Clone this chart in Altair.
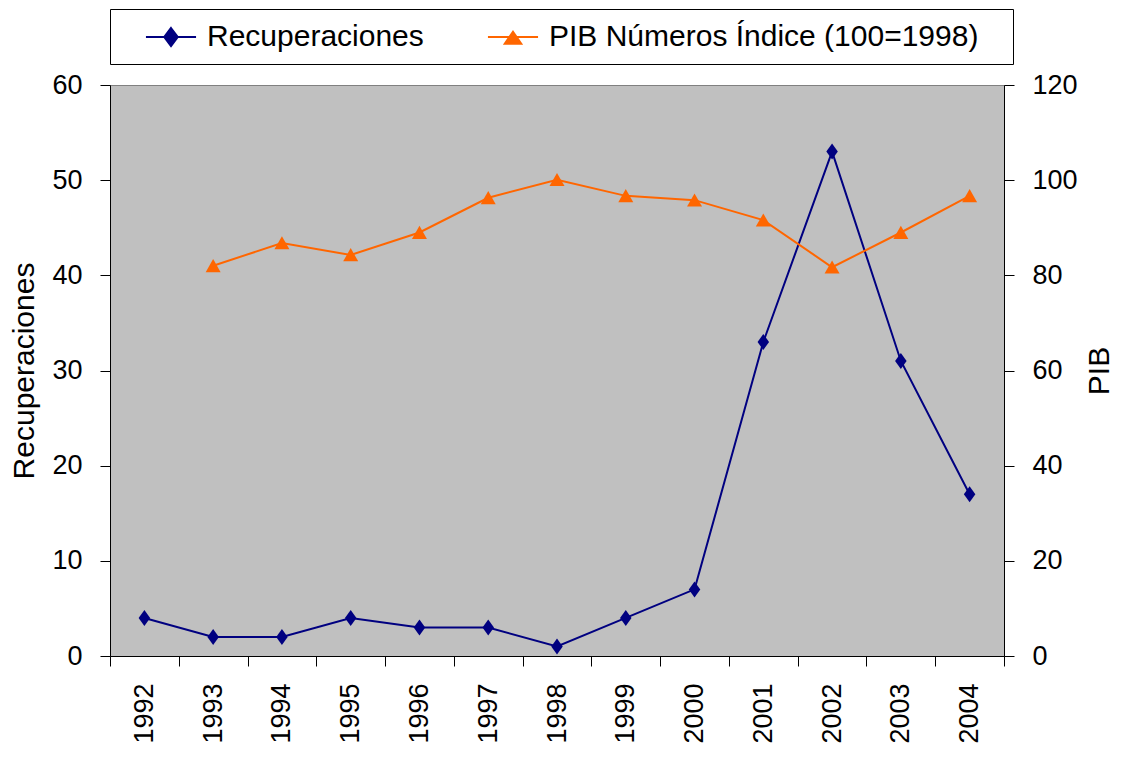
import altair as alt
import pandas as pd

years = ["1992", "1993", "1994", "1995", "1996", "1997", "1998",
         "1999", "2000", "2001", "2002", "2003", "2004"]
recuperaciones = [4, 2, 2, 4, 3, 3, 1, 4, 7, 33, 53, 31, 17]
pib = [None, 82.0, 86.8, 84.3, 89.0, 96.3, 100.1, 96.7, 95.8, 91.6, 81.7, 89.0, 96.7]
series_names = ["Recuperaciones", "PIB Números Índice (100=1998)"]
series_colors = ["#000080", "#FF6600"]

left_ticks = [0, 10, 20, 30, 40, 50, 60]
right_ticks = [0, 20, 40, 60, 80, 100, 120]

df = pd.DataFrame({"year": years, "rec": recuperaciones, "pib": pib})
legend_df = pd.DataFrame({"serie": series_names})

FONT = "Liberation Sans"
diamond = "M0,-1L0.72,0L0,1L-0.72,0Z"
triangle = "M0,-0.9L1,0.85L-1,0.85Z"

legend_diamond = "M-1.67,0L1.67,0M0,-0.6L0.45,0L0,0.6L-0.45,0Z"
legend_triangle = "M-1.67,0L1.67,0M0,-0.35L0.55,0.45L-0.55,0.45Z"

x_enc = alt.X(
    "year:O",
    sort=years,
    scale=alt.Scale(paddingInner=0, paddingOuter=0),
    axis=alt.Axis(
        title=None, labelAngle=270, tickBand="extent", labelPadding=17,
    ),
)

base = alt.Chart(df)

rec_line = base.mark_line(
    color=series_colors[0], strokeWidth=2,
    point=alt.OverlayMarkDef(filled=True, shape=diamond, size=256,
                             color=series_colors[0], opacity=1),
).encode(
    x=x_enc,
    y=alt.Y("rec:Q", scale=alt.Scale(domain=[0, 60], nice=False),
            axis=alt.Axis(values=left_ticks, title="Recuperaciones",
                          orient="left", titlePadding=12)),
)

pib_line = base.mark_line(
    color=series_colors[1], strokeWidth=2,
    point=alt.OverlayMarkDef(filled=True, shape=triangle, size=225,
                             color=series_colors[1], opacity=1),
).encode(
    x=x_enc,
    y=alt.Y("pib:Q", scale=alt.Scale(domain=[0, 120], nice=False),
            axis=alt.Axis(values=right_ticks, title="PIB", orient="right",
                          titleAngle=270, titlePadding=37)),
)

leg = alt.Legend(
    orient="none", legendX=0, legendY=-76, direction="horizontal",
    title=None, labelFont=FONT, labelFontSize=30, labelColor="black",
    symbolSize=900, symbolStrokeWidth=2, padding=12,
    strokeColor="#000000", fillColor="white", columnPadding=40,
    labelOffset=20, symbolOffset=33, labelLimit=700,
    labelExpr="datum.label == 'Recuperaciones' ? datum.label : datum.label + '\u2800'",
)

legend_layer = alt.Chart(legend_df).mark_point(
    filled=True, opacity=1, strokeWidth=2
).encode(
    color=alt.Color("serie:N", scale=alt.Scale(domain=series_names, range=series_colors), legend=leg),
    stroke=alt.Stroke("serie:N", scale=alt.Scale(domain=series_names, range=series_colors), legend=leg),
    shape=alt.Shape("serie:N", scale=alt.Scale(domain=series_names, range=[legend_diamond, legend_triangle]), legend=leg),
).transform_filter("false")

chart = alt.layer(rec_line, pib_line, legend_layer).resolve_scale(
    y="independent"
).properties(
    width=894, height=571,
    autosize="none",
    padding={"left": 102, "top": 77, "right": 114, "bottom": 95},
    view=alt.ViewBackground(fill="#C0C0C0", stroke="#808080", strokeWidth=1),
).configure_view(
    fill="#C0C0C0", stroke="#808080", strokeWidth=1,
).configure_axis(
    grid=False, domainColor="black", tickColor="black", tickSize=10,
    labelFont=FONT, labelFontSize=27, labelColor="black", labelPadding=18,
    titleFont=FONT, titleFontSize=30, titleFontWeight="normal", titleColor="black",
)

chart.save("out.html", embed_options={"renderer": "svg", "actions": False})
